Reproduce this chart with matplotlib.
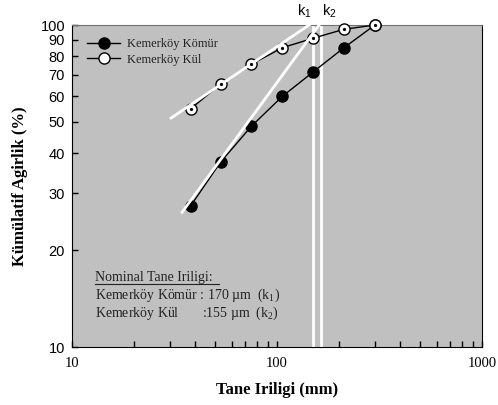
import matplotlib
matplotlib.use("Agg")
import matplotlib.pyplot as plt
from matplotlib.ticker import FixedLocator, NullFormatter, LogLocator

# sieve sizes and cumulative weights
tane = [38, 53, 75, 106, 150, 212, 300]
komur = [27.5, 37.5, 48.5, 60, 71.5, 85, 100]
kul = [55, 65.5, 75.5, 85, 91, 97, 100]

# white fit lines (start point, end at top)
fit_komur_x = [34.4, 164]
fit_komur_y = [26.2, 102]
fit_kul_x = [30.4, 150]
fit_kul_y = [51.4, 102]

# nominal size marks
k_pos = [150, 164]
k_labels = ["k$_{\\mathregular{1}}$", "k$_{\\mathregular{2}}$"]
k_align = ["right", "left"]

y_ticks = [10, 20, 30, 40, 50, 60, 70, 80, 90, 100]
x_ticks = [10, 100, 1000]

fig = plt.figure(figsize=(4.98, 4.05), dpi=100)
ax = fig.add_axes([0.1446, 0.1432, 0.8234, 0.7950])
ax.set_facecolor("#c0c0c0")
ax.set_xscale("log")
ax.set_yscale("log")
ax.set_xlim(10, 1000)
ax.set_ylim(10, 100)

# vertical nominal lines
for xv, lab, ha in zip(k_pos, k_labels, k_align):
    ax.plot([xv, xv], [10, 102.5], color="white", lw=2, clip_on=False, zorder=2)
    off = 0.985 if ha == "right" else 1.01
    ax.text(xv * off, 104, lab, ha=ha, va="bottom", fontsize=10.5,
            family="Liberation Sans")

ax.plot(tane, komur, color="black", lw=1, marker="o", ms=8,
        mfc="black", mec="black", zorder=3, label="Kemerköy Kömür", clip_on=False)
ax.plot(tane, kul, color="black", lw=1, marker="o", ms=8,
        mfc="white", mec="black", zorder=4, label="Kemerköy Kül", clip_on=False)
ax.plot(tane, kul, ls="none", marker="o", ms=1.3, mfc="black", mec="black",
        zorder=5, clip_on=False)

ax.plot(fit_komur_x, fit_komur_y, color="white", lw=2, zorder=4.5, clip_on=False)
ax.plot(fit_kul_x, fit_kul_y, color="white", lw=2, zorder=4.5, clip_on=False)

leg = ax.legend(loc="upper left", frameon=False,
                prop={"family": "Liberation Serif", "size": 9},
                handlelength=2.6, handletextpad=0.6,
                bbox_to_anchor=(0.01, 0.995), labelspacing=0.3)
for t in leg.get_texts():
    t.set_color("#222222")

ax.yaxis.set_major_locator(FixedLocator(y_ticks))
ax.yaxis.set_minor_locator(FixedLocator([]))
ax.set_yticklabels([str(v) for v in y_ticks], family="Liberation Sans", fontsize=10.5)
ax.xaxis.set_major_locator(FixedLocator(x_ticks))
ax.xaxis.set_minor_locator(LogLocator(base=10, subs=range(2, 10)))
ax.xaxis.set_minor_formatter(NullFormatter())
ax.set_xticklabels([str(v) for v in x_ticks], family="Liberation Serif", fontsize=10.5)
ax.tick_params(axis="both", which="both", direction="in", length=4.5, width=1, pad=7)
ax.tick_params(axis="y", pad=5)

for s in ["left", "bottom", "right"]:
    ax.spines[s].set_color("black")
ax.spines["top"].set_color("#707070")

ax.set_xlabel("Tane Iriligi (mm)", family="Liberation Serif", fontweight="bold",
              fontsize=12, labelpad=9)
ax.set_ylabel("Kümülatif Agirlik (%)", family="Liberation Serif", fontweight="bold",
              fontsize=12, labelpad=9)

# note box
note_kw = dict(transform=ax.transAxes, family="Liberation Serif", fontsize=10,
               color="#222222")
ax.text(0.056, 0.205, "Nominal Tane Iriligi:", **note_kw)
ax.plot([0.056, 0.358], [0.197, 0.197], transform=ax.transAxes, color="#222222", lw=0.8)
ax.text(0.056, 0.150, "Kemerköy Kömür : 170 µm  (k$_{\\mathregular{1}}$)", **note_kw)
ax.text(0.056, 0.094, "Kemerköy Kül       :155 µm  (k$_{\\mathregular{2}}$)", **note_kw)

fig.savefig("out.png", dpi=100)
